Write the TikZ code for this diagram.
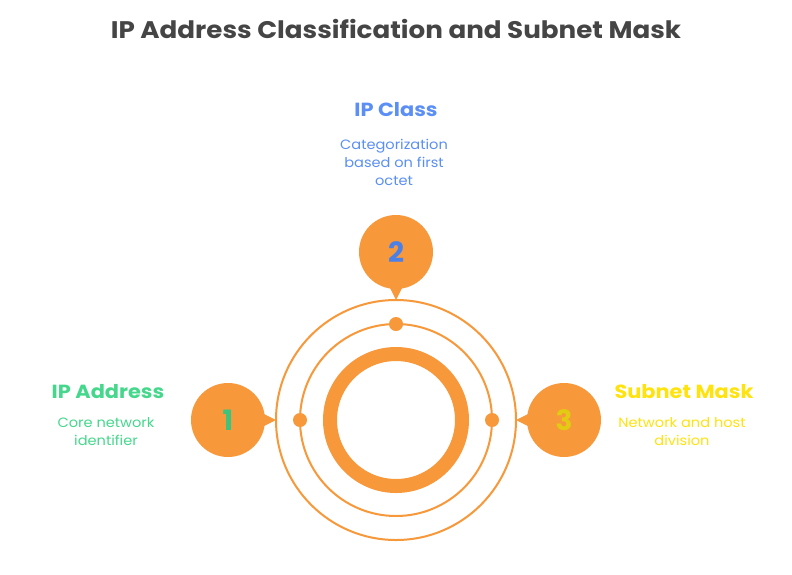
\documentclass[tikz,border=0pt]{standalone}
\usepackage{fontspec}
\setmainfont{Poppins}
\usetikzlibrary{calc}
\definecolor{orng}{HTML}{F7983A}
\definecolor{ttl}{HTML}{454545}
\definecolor{grn}{HTML}{45D88C}
\definecolor{blu}{HTML}{5B8FF5}
\definecolor{ylw}{HTML}{FFE30F}
\definecolor{grnN}{HTML}{3CC47C}
\definecolor{bluN}{HTML}{4A80E8}
\definecolor{ylwN}{HTML}{E2CB12}
\newcommand{\hsc}[1]{\scalebox{1.1}[1]{#1}}
\newcommand{\dsc}[1]{\scalebox{1.08}[1]{#1}}
\tikzset{
  ring/.style={draw=orng, line width=2pt},
  dot/.style={circle, fill=orng, minimum size=14pt, inner sep=0pt},
  bubble/.style={circle, fill=orng, minimum size=74pt, inner sep=0pt, font=\fontsize{28}{28}\selectfont\bfseries},
  head/.style={font=\fontsize{19}{19}\selectfont\bfseries, anchor=base},
  desc/.style={font=\fontsize{13.5}{18}\selectfont, align=center, anchor=north}
}
\begin{document}
\begin{tikzpicture}[x=1pt,y=-1pt]
\useasboundingbox (0,0) rectangle (792,574);
\fill[white] (0,0) rectangle (792,574);
% title
\node[text=ttl, font=\fontsize{24}{24}\selectfont\bfseries, anchor=base] (title) at (396,38) {\scalebox{1.09}[1]{IP Address Classification and Subnet Mask}};
% center
\coordinate (c) at (396,420);
\draw[ring] (c) circle[radius=120];
\draw[ring] (c) circle[radius=96];
\draw[draw=orng, line width=14pt] (c) circle[radius=66];
\node[dot] (d2) at (396,324) {};
\node[dot] (d1) at (300,420) {};
\node[dot] (d3) at (492,420) {};
% pointer tips
\coordinate (t1) at (276,420);
\coordinate (t2) at (396,300);
\coordinate (t3) at (516,420);
% bubbles
\node[bubble, text=grnN] (b1) at (228,420) {1};
\node[bubble, text=bluN] (b2) at (396,252) {2};
\node[bubble, text=ylwN] (b3) at (564,420) {3};
\fill[orng] ($(b1.center)+(30,-9)$) -- (t1) -- ($(b1.center)+(30,9)$) -- cycle;
\fill[orng] ($(b2.center)+(-9,30)$) -- (t2) -- ($(b2.center)+(9,30)$) -- cycle;
\fill[orng] ($(b3.center)+(-30,-9)$) -- (t3) -- ($(b3.center)+(-30,9)$) -- cycle;
% labels
\node[head, text=grn] (h1) at (108,398) {\hsc{IP Address}};
\node[desc, text=grn] (s1) at (106,414) {\dsc{Core network}\\\dsc{identifier}};
\node[head, text=blu] (h2) at (396,116) {\hsc{IP Class}};
\node[desc, text=blu] (s2) at (394,136) {\dsc{Categorization}\\\dsc{based on first}\\\dsc{octet}};
\node[head, text=ylw] (h3) at (684,398) {\hsc{Subnet Mask}};
\node[desc, text=ylw] (s3) at (682,414) {\dsc{Network and host}\\\dsc{division}};
\end{tikzpicture}
\end{document}
